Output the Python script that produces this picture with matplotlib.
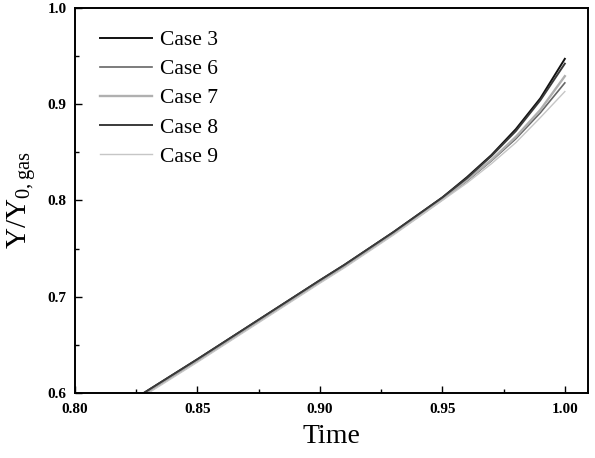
import matplotlib
matplotlib.use('Agg')
import matplotlib.pyplot as plt
from matplotlib.ticker import MultipleLocator

plt.rcParams['font.family'] = ['Liberation Serif', 'DejaVu Serif']
plt.rcParams['mathtext.fontset'] = 'custom'
plt.rcParams['mathtext.rm'] = 'Liberation Serif'

# Time points
time = [0.82, 0.85, 0.875, 0.90, 0.91, 0.92, 0.93, 0.94, 0.95, 0.96, 0.97, 0.98, 0.99, 1.00]

# Normalised mass fraction for each case
case3 = [0.587, 0.635, 0.676, 0.717, 0.733, 0.750, 0.767, 0.785, 0.803, 0.824, 0.847, 0.874, 0.906, 0.947]
case6 = [0.585, 0.633, 0.674, 0.715, 0.731, 0.748, 0.765, 0.783, 0.801, 0.820, 0.841, 0.864, 0.891, 0.922]
case7 = [0.586, 0.634, 0.675, 0.716, 0.732, 0.749, 0.766, 0.783, 0.801, 0.821, 0.842, 0.866, 0.894, 0.929]
case8 = [0.587, 0.635, 0.676, 0.717, 0.733, 0.750, 0.767, 0.785, 0.803, 0.823, 0.846, 0.872, 0.904, 0.942]
case9 = [0.584, 0.632, 0.673, 0.714, 0.730, 0.747, 0.764, 0.782, 0.800, 0.818, 0.838, 0.860, 0.886, 0.913]

series = [
    ('Case 3', case3, '#111111', 1.4),
    ('Case 6', case6, '#666666', 1.2),
    ('Case 7', case7, '#b0b0b0', 1.7),
    ('Case 8', case8, '#3a3a3a', 1.4),
    ('Case 9', case9, '#c6c6c6', 1.0),
]

fig = plt.figure(figsize=(5.95, 4.58), dpi=100)
ax = fig.add_axes([0.126, 0.142, 0.862, 0.841])

for label, vals, color, lw in series:
    ax.plot(time, vals, color=color, lw=lw, label=label)

ax.set_xlim(0.80, 1.0094)
ax.set_ylim(0.6, 1.0)
ax.set_xticks([0.80, 0.85, 0.90, 0.95, 1.00])
ax.set_xticklabels(['0.80', '0.85', '0.90', '0.95', '1.00'])
ax.set_yticks([0.6, 0.7, 0.8, 0.9, 1.0])
ax.set_yticklabels(['0.6', '0.7', '0.8', '0.9', '1.0'])
ax.xaxis.set_minor_locator(MultipleLocator(0.025))
ax.yaxis.set_minor_locator(MultipleLocator(0.05))

ax.tick_params(which='both', direction='in', top=False, right=False)
ax.tick_params(which='major', length=5, width=1.0, labelsize=11)
ax.tick_params(axis='x', which='major', pad=7)
ax.tick_params(axis='y', which='major', pad=6)
ax.tick_params(which='minor', length=3, width=1.0)
for lab in ax.get_xticklabels() + ax.get_yticklabels():
    lab.set_fontweight('bold')
for sp in ax.spines.values():
    sp.set_linewidth(1.4)

ax.set_xlabel('Time', fontsize=20, labelpad=6)
ax.set_ylabel(r'Y/Y$_{\mathrm{0,gas}}$', fontsize=21, labelpad=6)

ax.legend(loc='upper left', bbox_to_anchor=(0.049, 0.942), frameon=False,
          fontsize=15.5, handlelength=2.4, labelspacing=0.42,
          borderaxespad=0, borderpad=0, handletextpad=0.37)

fig.savefig('out.png', dpi=100)
